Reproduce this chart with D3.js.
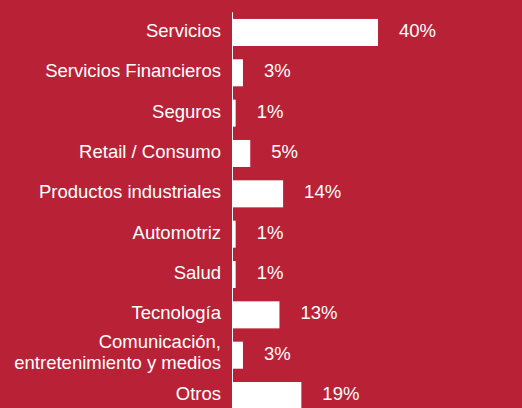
<!DOCTYPE html>
<html>
<head>
<meta charset="utf-8">
<script src="https://cdn.jsdelivr.net/npm/d3@7"></script>
<style>
	html, body { margin: 0; padding: 0; background: #b92236; }
	svg { display: block; }
	text { font-family: "Liberation Sans", Arial, Helvetica, sans-serif; fill: #ffffff; }
</style>
</head>
<body>
<svg id="chart" width="522" height="408"></svg>
<script>
// sectores y porcentajes
var sectors = ["Servicios", "Servicios Financieros", "Seguros", "Retail / Consumo",
			   "Productos industriales", "Automotriz", "Salud", "Tecnología",
			   "Comunicación,\nentretenimiento y medios", "Otros"];
var shares = [40, 3, 1, 5, 14, 1, 1, 13, 3, 19];
var valueLabels = ["40%", "3%", "1%", "5%", "14%", "1%", "1%", "13%", "3%", "19%"];

drawSectors();

function drawSectors(){
	var svg = d3.select("#chart");
	var width = 522, height = 408;
	var fontSize = "18.5px";

	var x = d3.scaleLinear()
			.domain([0, 40])
			.range([232, 378]);

	var y = d3.scaleBand()
			.domain(sectors)
			.range([12.3, 415.7])
			.paddingInner(0.33)
			.paddingOuter(0.165);

	var rows = svg.selectAll("g.row")
			.data(sectors)
			.enter().append("g")
			.attr("class", "row");

	rows.append("rect")
			.attr("x", x(0))
			.attr("y", function(d){ return y(d); })
			.attr("width", function(d, i){ return x(shares[i]) - x(0); })
			.attr("height", y.bandwidth())
			.attr("fill", "#ffffff");

	// nombres de sector, alineados a la derecha
	rows.each(function(d){
		var lines = d.split("\n");
		var cy = y(d) + y.bandwidth() / 2 - 2;
		var t = d3.select(this).append("text")
				.attr("text-anchor", "end")
				.attr("font-size", fontSize);
		lines.forEach(function(line, k){
			t.append("tspan")
				.attr("x", x(0) - 11)
				.attr("y", cy + (k - (lines.length - 1) / 2) * 21 - (lines.length - 1))
				.attr("dy", "0.35em")
				.text(line);
		});
	});

	rows.append("text")
			.attr("x", function(d, i){ return x(shares[i]) + 21; })
			.attr("y", function(d){ return y(d) + y.bandwidth() / 2 - 2; })
			.attr("dy", "0.35em")
			.attr("font-size", fontSize)
			.text(function(d, i){ return valueLabels[i]; });

	svg.append("line")
			.attr("x1", x(0) + 0.5)
			.attr("x2", x(0) + 0.5)
			.attr("y1", y.range()[0])
			.attr("y2", height)
			.attr("stroke", "#ffffff")
			.attr("stroke-width", 1);
}
</script>
</body>
</html>
